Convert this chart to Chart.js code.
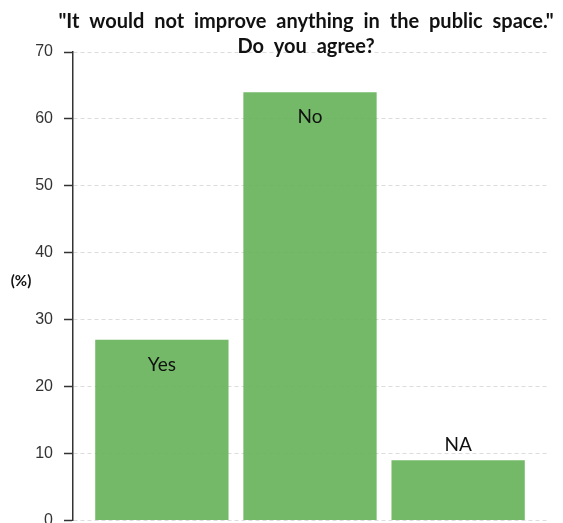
<!DOCTYPE html>
<html>
<head>
<meta charset="utf-8">
<script src="https://cdn.jsdelivr.net/npm/chart.js@4/dist/chart.umd.min.js"></script>
<style>
  html, body { margin:0; padding:0; background:#fff; overflow:hidden; }
  #wrap { position:relative; width:563px; height:523px; }
</style>
</head>
<body>
<div id="wrap"><canvas id="poll"></canvas></div>
<script>
// ---- data ----
const answers = ['Yes', 'No', 'NA'];
const shares = [27, 64, 9];
const yTicks = [0, 10, 20, 30, 40, 50, 60, 70];
const titleLines = ['"It would not improve anything in the public space."', 'Do you agree?'];
const yLabel = '(%)';

// title, axis caption and in-bar answer labels
const annotate = {
  id: 'annotate',
  afterDatasetsDraw(chart) {
    const ctx = chart.ctx, area = chart.chartArea;
    ctx.save();
    ctx.fillStyle = '#111';
    ctx.textAlign = 'center';
    ctx.textBaseline = 'middle';
    ctx.font = 'bold 20px Lato';
    if ('wordSpacing' in ctx) ctx.wordSpacing = '5px';
    const cx = (area.left + area.right) / 2 - 4;
    ctx.fillText(titleLines[0], cx, 22);
    ctx.fillText(titleLines[1], cx, 47);
    if ('wordSpacing' in ctx) ctx.wordSpacing = '0px';

    ctx.font = 'bold 15px Lato';
    ctx.fillText(yLabel, 21, 281);

    const meta = chart.getDatasetMeta(0);
    ctx.font = '19px Lato';
    meta.data.forEach((bar, i) => {
      const y = shares[i] > 15 ? bar.y + 25 : bar.y - 15;
      ctx.fillText(answers[i], bar.x, y);
    });
    ctx.restore();
  }
};

new Chart(document.getElementById('poll'), {
  type: 'bar',
  data: {
    datasets: [{
      data: answers.map((a, i) => ({ x: i, y: shares[i] })),
      backgroundColor: 'rgba(100,177,88,0.9)',
      borderWidth: 0,
      barPercentage: 0.9,
      categoryPercentage: 1
    }]
  },
  options: {
    responsive: true,
    maintainAspectRatio: false,
    animation: false,
    layout: { padding: { top: 52, right: 16, bottom: 2.5, left: 0 } },
    plugins: { legend: { display: false }, tooltip: { enabled: false } },
    scales: {
      x: {
        type: 'linear',
        min: -0.6,
        max: 2.6,
        display: false,
        afterBuildTicks: s => { s.ticks = []; }
      },
      y: {
        min: 0,
        max: 70,
        afterBuildTicks: s => { s.ticks = yTicks.map(v => ({ value: v })); },
        afterFit: s => { s.width = 73; s.paddingTop = 0; s.paddingBottom = 0; },
        border: { display: true, color: '#333', width: 1.5, dash: [4, 3] },
        grid: {
          color: '#dcdcdc',
          lineWidth: 1,
          tickLength: 9,
          tickColor: '#333',
          tickWidth: 1.5,
          tickBorderDash: []
        },
        ticks: {
          padding: 11,
          color: '#333',
          font: { family: 'Liberation Sans', size: 16 }
        }
      }
    }
  },
  plugins: [annotate]
});
</script>
</body>
</html>
